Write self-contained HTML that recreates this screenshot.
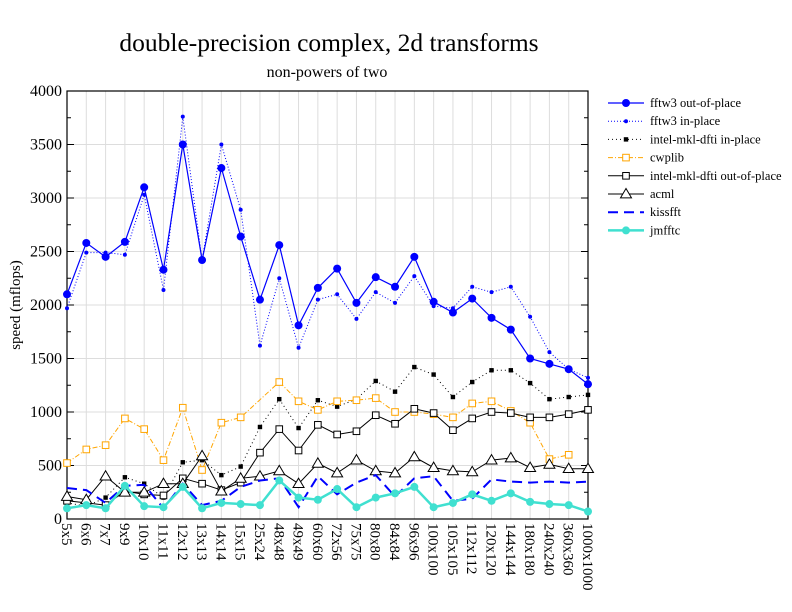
<!DOCTYPE html>
<html><head><meta charset="utf-8"><style>body{margin:0;background:#fff}svg{display:block}text{font-family:"Liberation Serif",serif}</style></head>
<body><svg id="s" width="792" height="612" xmlns="http://www.w3.org/2000/svg"></svg>
<script>
const cats="5x5,6x6,7x7,9x9,10x10,11x11,12x12,13x13,14x14,15x15,25x24,48x48,49x49,60x60,72x56,75x75,80x80,84x84,96x96,100x100,105x105,112x112,120x120,144x144,180x180,240x240,360x360,1000x1000".split(",");
const X0=67,X1=588,Y0=519,SY=0.107;const dx=(X1-X0)/27;
const X=i=>X0+i*dx,Y=v=>Y0-v*SY;
let h='';
for(let i=0;i<28;i++)h+=`<line x1="${X(i)}" y1="91" x2="${X(i)}" y2="519" stroke="#ddd"/>`;
for(let v=500;v<=4000;v+=500)h+=`<line x1="67" y1="${Y(v)}" x2="588" y2="${Y(v)}" stroke="#ddd"/>`;
h+=`<rect x="67" y="91" width="521" height="428" fill="none" stroke="#000" stroke-width="1.2"/>`;
for(let v=0;v<=4000;v+=250){h+=`<line x1="67" y1="${Y(v)}" x2="${v%500?71:74}" y2="${Y(v)}" stroke="#000"/><line x1="588" y1="${Y(v)}" x2="${v%500?584:581}" y2="${Y(v)}" stroke="#000"/>`;if(v%500==0)h+=`<text x="62" y="${Y(v)+5}" font-size="16" text-anchor="end">${v}</text>`;}
cats.forEach((c,i)=>{h+=`<text transform="translate(${X(i)-5},523) rotate(90)" font-size="15">${c}</text>`});
h+=`<text x="329" y="51" font-size="25.5" text-anchor="middle">double-precision complex, 2d transforms</text>`;
h+=`<text x="327" y="77" font-size="16" text-anchor="middle">non-powers of two</text>`;
h+=`<text transform="translate(20,305) rotate(-90)" font-size="15" text-anchor="middle">speed (mflops)</text>`;
const S=[
["fftw3 out-of-place","#0000ff","","1.2","dot",4,[2100,2580,2450,2590,3100,2330,3500,2420,3280,2640,2050,2560,1810,2160,2340,2020,2260,2170,2450,2030,1930,2060,1880,1770,1500,1450,1400,1260]],
["fftw3 in-place","#0000ff","1,2","1","dot",2,[1970,2490,2490,2470,3030,2140,3760,2420,3500,2890,1620,2250,1600,2050,2100,1870,2120,2020,2270,1990,1970,2170,2120,2170,1890,1560,1400,1320]],
["intel-mkl-dfti in-place","#000","1,3","1","sq",2.2,[150,120,200,390,330,200,530,550,410,490,860,1120,850,1110,1050,1120,1290,1190,1420,1350,1140,1280,1390,1390,1270,1120,1140,1160]],
["cwplib","#ffa500","5,2,1,2","1","osq",3.3,[523,650,690,940,840,550,1040,458,900,950,null,1280,1100,1020,1100,1110,1130,1000,1000,980,950,1080,1100,1010,900,560,600,null]],
["intel-mkl-dfti out-of-place","#000","","1","osq",3.3,[170,150,130,260,230,220,380,330,270,340,620,840,640,880,790,820,970,890,1030,990,830,940,1000,990,950,950,980,1020]],
["acml","#000","","1","tri",5.5,[210,180,400,250,250,330,330,590,260,380,400,450,330,520,430,550,450,430,580,480,450,440,550,570,480,510,470,470]],
["kissfft","#0000ff","10,6","2","",0,[290,270,150,310,320,100,330,130,170,300,360,380,110,400,230,340,410,210,380,400,170,190,370,350,340,350,340,350]],
["jmfftc","#40e0d0","","2.5","dot",4,[100,130,100,310,120,110,300,100,150,140,130,360,200,180,280,110,200,240,300,110,150,230,170,240,160,140,130,70]]];
function mk(t,x,y,c,r){if(t=="dot")return `<circle cx="${x}" cy="${y}" r="${r}" fill="${c}"/>`;if(t=="sq")return `<rect x="${x-r}" y="${y-r}" width="${2*r}" height="${2*r}" fill="${c}"/>`;if(t=="osq")return `<rect x="${x-r}" y="${y-r}" width="${2*r}" height="${2*r}" fill="#fff" stroke="${c}"/>`;if(t=="tri")return `<polygon points="${x},${y-r} ${x-r},${y+r*0.7} ${x+r},${y+r*0.7}" fill="#fff" stroke="${c}"/>`;return ''}
S.forEach((s,k)=>{const [n,c,da,w,m,r,d]=s;let p=[];d.forEach((v,i)=>{if(v!=null)p.push(X(i).toFixed(1)+","+Y(v).toFixed(1))});
h+=`<polyline points="${p.join(" ")}" fill="none" stroke="${c}" stroke-width="${w}" ${da?`stroke-dasharray="${da}"`:""}/>`;
d.forEach((v,i)=>{if(v!=null)h+=mk(m,X(i),Y(v),c,r)});
const ly=103+k*18.2;h+=`<line x1="608" y1="${ly}" x2="644" y2="${ly}" stroke="${c}" stroke-width="${w}" ${da?`stroke-dasharray="${da}"`:""}/>`+mk(m,626,ly,c,r)+`<text x="650" y="${ly+4}" font-size="12.5">${n}</text>`;});
document.getElementById('s').innerHTML=h;
</script></body></html>
